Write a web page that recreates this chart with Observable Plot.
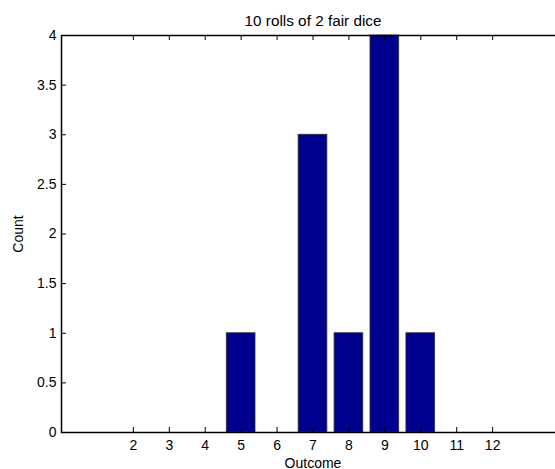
<!DOCTYPE html>
<html>
<head>
<meta charset="utf-8">
<script src="https://cdn.jsdelivr.net/npm/d3@7"></script>
<script src="https://cdn.jsdelivr.net/npm/@observablehq/plot@0.6"></script>
<style>
  html, body { margin: 0; padding: 0; background: #fff; overflow: hidden; }
  #chart { width: 555px; height: 469px; overflow: hidden; }
  #chart svg { max-width: none !important; display: block; }
</style>
</head>
<body>
<div id="chart"></div>
<script>
const outcomes = [2, 3, 4, 5, 6, 7, 8, 9, 10, 11, 12];
const counts   = [0, 0, 0, 1, 0, 3, 1, 4, 1, 0, 0];
const xTicks = [2, 3, 4, 5, 6, 7, 8, 9, 10, 11, 12];
const yTicks = [0, 0.5, 1, 1.5, 2, 2.5, 3, 3.5, 4];
const titleText = "10 rolls of 2 fair dice";
const xLabel = "Outcome";
const yLabel = "Count";

const data = outcomes.map((o, i) => ({outcome: o, count: counts[i]}));
const barHalf = 0.4;
const font = "Liberation Sans, Arial, Helvetica, sans-serif";

const W = 564, H = 469;
const mL = 61, mR = 0, mT = 35, mB = 37;
const frameH = H - mT - mB;
const frameW = W - mL - mR;
const tickLen = 5;

const chart = Plot.plot({
  width: W,
  height: H,
  marginLeft: mL,
  marginRight: mR,
  marginTop: mT,
  marginBottom: mB,
  style: {fontFamily: font, fontSize: "14px", color: "#000", background: "#fff", maxWidth: "none"},
  x: {domain: [0, 14]},
  y: {domain: [0, 4]},
  marks: [
    Plot.rectY(data, {
      x1: d => d.outcome - barHalf,
      x2: d => d.outcome + barHalf,
      y: "count",
      fill: "#00008f",
      stroke: "#333",
      strokeWidth: 0.8
    }),
    // inward ticks
    Plot.tickX(xTicks, {x: d => d, insetTop: frameH - tickLen, stroke: "#000", strokeWidth: 1}),
    Plot.tickX(xTicks, {x: d => d, insetBottom: frameH - tickLen, stroke: "#000", strokeWidth: 1}),
    Plot.tickY(yTicks, {y: d => d, insetRight: frameW - tickLen, stroke: "#000", strokeWidth: 1}),
    Plot.frame({stroke: "#000", strokeWidth: 1.5}),
    Plot.axisX({ticks: xTicks, tickSize: 0, tickPadding: 8, tickFormat: d3.format("d"),
      label: xLabel, labelAnchor: "center", labelArrow: "none", labelOffset: 35, fontSize: 14}),
    Plot.axisY({ticks: yTicks, tickSize: 0, tickPadding: 5, tickFormat: d3.format("~g"),
      label: yLabel, labelAnchor: "center", labelArrow: "none", labelOffset: 48, fontSize: 14}),
    Plot.text([titleText], {frameAnchor: "top", dy: -20, fontSize: 15.3, text: d => d})
  ]
});
document.getElementById("chart").appendChild(chart);
</script>
</body>
</html>
